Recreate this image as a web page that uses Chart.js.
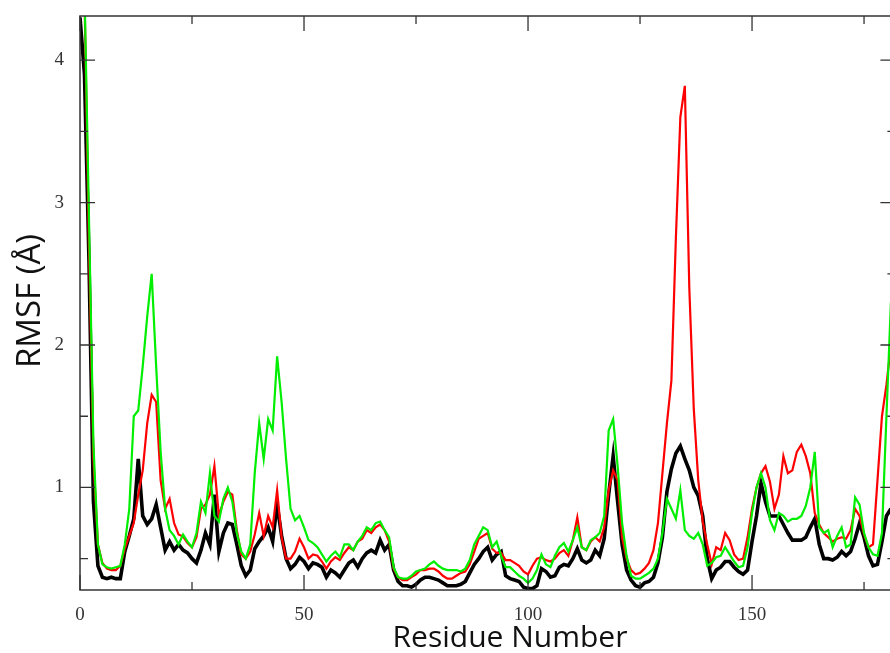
<!DOCTYPE html>
<html>
<head>
<meta charset="utf-8">
<script src="https://cdn.jsdelivr.net/npm/chart.js@4/dist/chart.umd.min.js"></script>
<style>
  html, body { margin: 0; padding: 0; background: #fff; overflow: hidden; }
  #wrap { width: 900px; height: 653px; }
</style>
</head>
<body>
<div id="wrap"><canvas id="rmsfChart" width="900" height="653"></canvas></div>
<script>
// residue index 0..181
const residues = Array.from({ length: 182 }, (_, i) => i);

const xTicks = [0, 50, 100, 150];
const xMinorTicks = [25, 75, 125, 175];
const yTicks = [1, 2, 3, 4];
const yMinorTicks = [0.5, 1.5, 2.5, 3.5];

const blackRmsf = [
    4.3, 3.9, 2.6, 0.9, 0.45, 0.37, 0.36, 0.37, 0.36, 0.36,
    0.55, 0.66, 0.78, 1.2, 0.8, 0.74, 0.78, 0.88, 0.72, 0.56,
    0.62, 0.56, 0.6, 0.56, 0.54, 0.5, 0.47, 0.56, 0.68, 0.6,
    0.95, 0.55, 0.68, 0.75, 0.74, 0.6, 0.45, 0.38, 0.42, 0.57,
    0.62, 0.66, 0.72, 0.62, 0.88, 0.66, 0.5, 0.43, 0.46, 0.51,
    0.48, 0.43, 0.47, 0.46, 0.44, 0.37, 0.42, 0.4, 0.37, 0.42,
    0.47, 0.49, 0.44, 0.5, 0.54, 0.56, 0.54, 0.63, 0.56, 0.6,
    0.42, 0.34, 0.31, 0.31, 0.3, 0.32, 0.35, 0.37, 0.37, 0.36,
    0.35, 0.33, 0.31, 0.31, 0.31, 0.32, 0.34, 0.4, 0.46, 0.5,
    0.55, 0.58, 0.49, 0.53, 0.55, 0.38, 0.36, 0.35, 0.34, 0.3,
    0.29, 0.29, 0.31, 0.43, 0.41, 0.37, 0.38, 0.44, 0.46, 0.45,
    0.5, 0.57, 0.49, 0.47, 0.49, 0.56, 0.52, 0.64, 0.95, 1.22,
    0.9, 0.6, 0.42, 0.35, 0.31, 0.3, 0.33, 0.34, 0.37, 0.47,
    0.65, 0.97, 1.13, 1.24, 1.29, 1.2, 1.12, 1.0, 0.94, 0.8,
    0.5, 0.36, 0.42, 0.44, 0.48, 0.48, 0.44, 0.41, 0.39, 0.42,
    0.62, 0.8, 1.03, 0.9, 0.8, 0.8, 0.8, 0.74, 0.68, 0.63,
    0.63, 0.63, 0.65, 0.72, 0.78, 0.6, 0.5, 0.5, 0.49, 0.51,
    0.55, 0.52, 0.55, 0.64, 0.75, 0.65, 0.52, 0.45, 0.46, 0.62,
    0.8, 0.85
];

const redRmsf = [
    4.5, 4.45, 2.7, 1.2, 0.6, 0.47, 0.43, 0.42, 0.42, 0.45,
    0.57, 0.66, 0.75, 0.95, 1.12, 1.45, 1.65, 1.6, 1.05, 0.85,
    0.92, 0.75, 0.67, 0.655, 0.61, 0.58, 0.65, 0.85, 0.88, 0.95,
    1.15, 0.8, 0.9, 0.97, 0.95, 0.7, 0.53, 0.5, 0.55, 0.67,
    0.82, 0.66, 0.8, 0.72, 0.98, 0.65, 0.5, 0.5, 0.55, 0.64,
    0.58, 0.5, 0.53, 0.52, 0.48, 0.43, 0.48, 0.51, 0.49, 0.54,
    0.58, 0.56, 0.62, 0.64, 0.7, 0.68, 0.72, 0.74, 0.7, 0.62,
    0.43, 0.37, 0.35, 0.35, 0.37, 0.39, 0.42, 0.42, 0.43, 0.43,
    0.41, 0.38, 0.36, 0.36, 0.38, 0.4, 0.41, 0.46, 0.55, 0.64,
    0.66, 0.68, 0.57, 0.54, 0.54, 0.49, 0.49, 0.47, 0.45, 0.41,
    0.39, 0.45, 0.5, 0.51, 0.49, 0.48, 0.5, 0.54, 0.56, 0.52,
    0.63, 0.79, 0.58, 0.56, 0.62, 0.65, 0.62, 0.72, 0.98, 1.12,
    1.05, 0.65, 0.5, 0.42, 0.39, 0.4, 0.43, 0.47, 0.56, 0.75,
    1.1, 1.45, 1.75, 2.75, 3.6, 3.82, 2.4, 1.55, 1.05, 0.76,
    0.6, 0.46, 0.58, 0.56, 0.68, 0.63, 0.53, 0.49, 0.5, 0.65,
    0.85, 1.0, 1.1, 1.15, 1.04, 0.85, 0.95, 1.22, 1.1, 1.12,
    1.25, 1.3, 1.22, 1.1, 0.82, 0.74, 0.68, 0.65, 0.62, 0.64,
    0.65, 0.64, 0.7, 0.85, 0.8, 0.67, 0.58, 0.6, 1.05, 1.5,
    1.72, 2.0
];

const greenRmsf = [
    4.6, 4.5, 2.9, 1.3, 0.6, 0.46, 0.44, 0.43, 0.44, 0.45,
    0.6, 0.85, 1.5, 1.54, 1.85, 2.2, 2.5, 1.85, 1.25, 0.85,
    0.7, 0.66, 0.6, 0.67, 0.62, 0.58, 0.68, 0.9, 0.82, 1.1,
    0.8, 0.76, 0.92, 1.0, 0.9, 0.68, 0.55, 0.5, 0.6, 1.1,
    1.45, 1.2, 1.48, 1.4, 1.92, 1.6, 1.2, 0.85, 0.77, 0.8,
    0.72, 0.63, 0.61, 0.58, 0.53, 0.48, 0.52, 0.55, 0.51, 0.6,
    0.6, 0.56, 0.62, 0.66, 0.72, 0.7, 0.75, 0.76, 0.7, 0.65,
    0.44, 0.37, 0.36, 0.36, 0.38, 0.41, 0.42, 0.43, 0.46, 0.48,
    0.45, 0.43, 0.42, 0.42, 0.42, 0.41, 0.43, 0.49, 0.6, 0.66,
    0.72, 0.7, 0.58, 0.62, 0.52, 0.44, 0.44, 0.41, 0.38, 0.36,
    0.33, 0.36, 0.42, 0.53, 0.46, 0.44, 0.52, 0.58, 0.61, 0.55,
    0.63, 0.72, 0.58, 0.56, 0.63, 0.65, 0.68, 0.8, 1.4, 1.48,
    1.15, 0.75, 0.52, 0.38, 0.36, 0.36, 0.38, 0.4, 0.43, 0.5,
    0.68, 0.92, 0.85, 0.78, 0.98, 0.7, 0.66, 0.64, 0.68, 0.6,
    0.45, 0.47, 0.51, 0.52, 0.58, 0.53, 0.48, 0.44, 0.45, 0.58,
    0.82, 1.0, 1.1, 1.0, 0.77, 0.7, 0.82, 0.8, 0.76, 0.78,
    0.78, 0.8, 0.87, 1.0, 1.25, 0.72, 0.68, 0.7, 0.58, 0.66,
    0.72, 0.58, 0.6, 0.93, 0.88, 0.68, 0.58, 0.53, 0.52, 0.68,
    1.5, 2.3
];

const axisColor = "#333";
const tickFont = { family: "Liberation Serif", size: 19 };

function toPoints(values) {
    return residues.map((r, i) => ({ x: r, y: values[i] }));
}

// frame, inward ticks and axis titles, xmgrace style
const framePlugin = {
    id: "frame",
    afterDatasetsDraw(chart) {
        const { ctx, chartArea: a, scales } = chart;
        const x = scales.x, y = scales.y;
        ctx.save();
        ctx.strokeStyle = axisColor;
        ctx.lineWidth = 1.5;
        ctx.strokeRect(a.left, a.top, a.right - a.left, a.bottom - a.top);

        ctx.lineWidth = 1.3;
        ctx.beginPath();
        const xt = (v, len) => {
            const px = x.getPixelForValue(v);
            ctx.moveTo(px, a.bottom); ctx.lineTo(px, a.bottom - len);
            ctx.moveTo(px, a.top); ctx.lineTo(px, a.top + len);
        };
        const yt = (v, len) => {
            const py = y.getPixelForValue(v);
            ctx.moveTo(a.left, py); ctx.lineTo(a.left + len, py);
            ctx.moveTo(a.right, py); ctx.lineTo(a.right - len, py);
        };
        xTicks.forEach(v => xt(v, 15));
        xMinorTicks.forEach(v => xt(v, 8));
        yTicks.forEach(v => yt(v, 15));
        yMinorTicks.forEach(v => yt(v, 8));
        ctx.stroke();

        ctx.fillStyle = "#111";
        ctx.textAlign = "center";
        ctx.textBaseline = "alphabetic";
        ctx.font = "30px 'Open Sans'";
        ctx.fillText("Residue Number", 510, 647);

        ctx.translate(31, 301);
        ctx.rotate(-Math.PI / 2);
        ctx.textBaseline = "middle";
        ctx.font = "33px 'Open Sans'";
        ctx.fillText("RMSF (Å)", 0, 0);
        ctx.restore();
    }
};

document.addEventListener("DOMContentLoaded", () => {
    const ctx = document.getElementById("rmsfChart").getContext("2d");

    new Chart(ctx, {
        type: "line",
        data: {
            datasets: [
                { label: "green", data: toPoints(greenRmsf), borderColor: "#00ee00", borderWidth: 2.2, order: 0 },
                { label: "red", data: toPoints(redRmsf), borderColor: "#ff0000", borderWidth: 2.2, order: 1 },
                { label: "black", data: toPoints(blackRmsf), borderColor: "#000000", borderWidth: 3.6, order: 2 },
            ],
        },
        options: {
            responsive: false,
            animation: false,
            events: [],
            layout: { padding: { left: 0, top: 16, right: 4.6, bottom: 0 } },
            elements: {
                point: { radius: 0 },
                line: { tension: 0, borderJoinStyle: "miter" },
            },
            plugins: {
                legend: { display: false },
                tooltip: { enabled: false },
            },
            scales: {
                x: {
                    type: "linear",
                    min: 0,
                    max: 182,
                    grid: { display: false },
                    border: { display: false },
                    ticks: {
                        stepSize: 50,
                        includeBounds: false,
                        maxRotation: 0,
                        padding: 6,
                        color: axisColor,
                        font: tickFont,
                    },
                    afterFit(scale) {
                        scale.height = 63;
                        scale.paddingLeft = 0;
                        scale.paddingRight = 0;
                    },
                },
                y: {
                    type: "linear",
                    min: 0.28,
                    max: 4.31,
                    grid: { display: false },
                    border: { display: false },
                    ticks: {
                        stepSize: 1,
                        includeBounds: false,
                        padding: 8,
                        color: axisColor,
                        font: tickFont,
                        callback: v => Number.isInteger(v) ? String(v) : "",
                    },
                    afterFit(scale) {
                        scale.width = 80;
                        scale.paddingTop = 0;
                        scale.paddingBottom = 0;
                    },
                },
            },
        },
        plugins: [framePlugin],
    });
});
</script>
</body>
</html>
